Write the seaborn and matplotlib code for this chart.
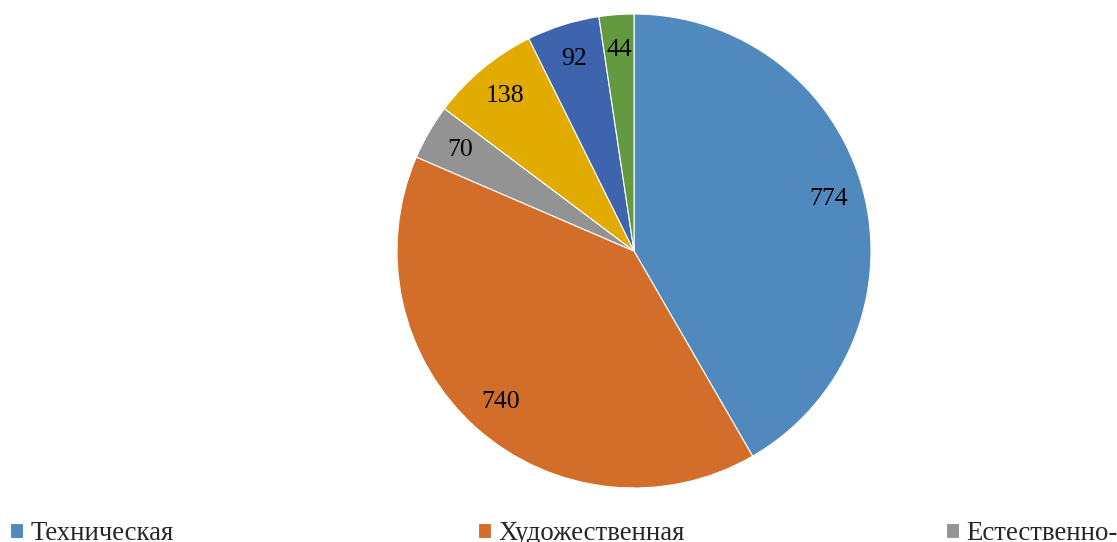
import matplotlib.pyplot as plt
import seaborn as sns

# Data (clockwise from 12 o'clock)
categories = ["Техническая", "Художественная", "Естественно-\nнаучная",
              "Экономическая", "Гуманитарная", "Прочая"]
values = [774, 740, 70, 138, 92, 44]
colors = ["#4F89BD", "#D36E2A", "#939393", "#E2AB00", "#3D64AD", "#639A3F"]

sns.set_theme(style="white")
plt.rcParams['font.family'] = ['Liberation Serif', 'DejaVu Serif']

W, H = 1117, 542
cx, cy, r = 634, 251, 237
fig = plt.figure(figsize=(W / 100, H / 100), dpi=100)
ax = fig.add_axes([(cx - r) / W, (H - cy - r) / H, 2 * r / W, 2 * r / H])

total = sum(values)
wedges, texts, autotexts = ax.pie(
    values, colors=colors, startangle=90, counterclock=False, radius=1,
    autopct=lambda p: f"{round(p * total / 100):d}", pctdistance=0.85,
    wedgeprops=dict(edgecolor="white", linewidth=0.8),
    textprops=dict(fontsize=18.5, color="black"))
ax.set_xlim(-1, 1)
ax.set_ylim(-1, 1)
ax.set_aspect("equal")
ax.axis("off")

# legend entries on an even grid at the bottom (only the first line shows)
for i, x0 in enumerate([10, 478, 946]):
    fig.legend([wedges[i]], [categories[i].split("\n")[0]], loc="upper left",
               bbox_to_anchor=(x0 / W, 1 - 521 / H), frameon=False,
               fontsize=19.3, handlelength=0.5, handleheight=0.5,
               handletextpad=0.25, borderpad=0, borderaxespad=0)

fig.savefig("out.png", dpi=100)
